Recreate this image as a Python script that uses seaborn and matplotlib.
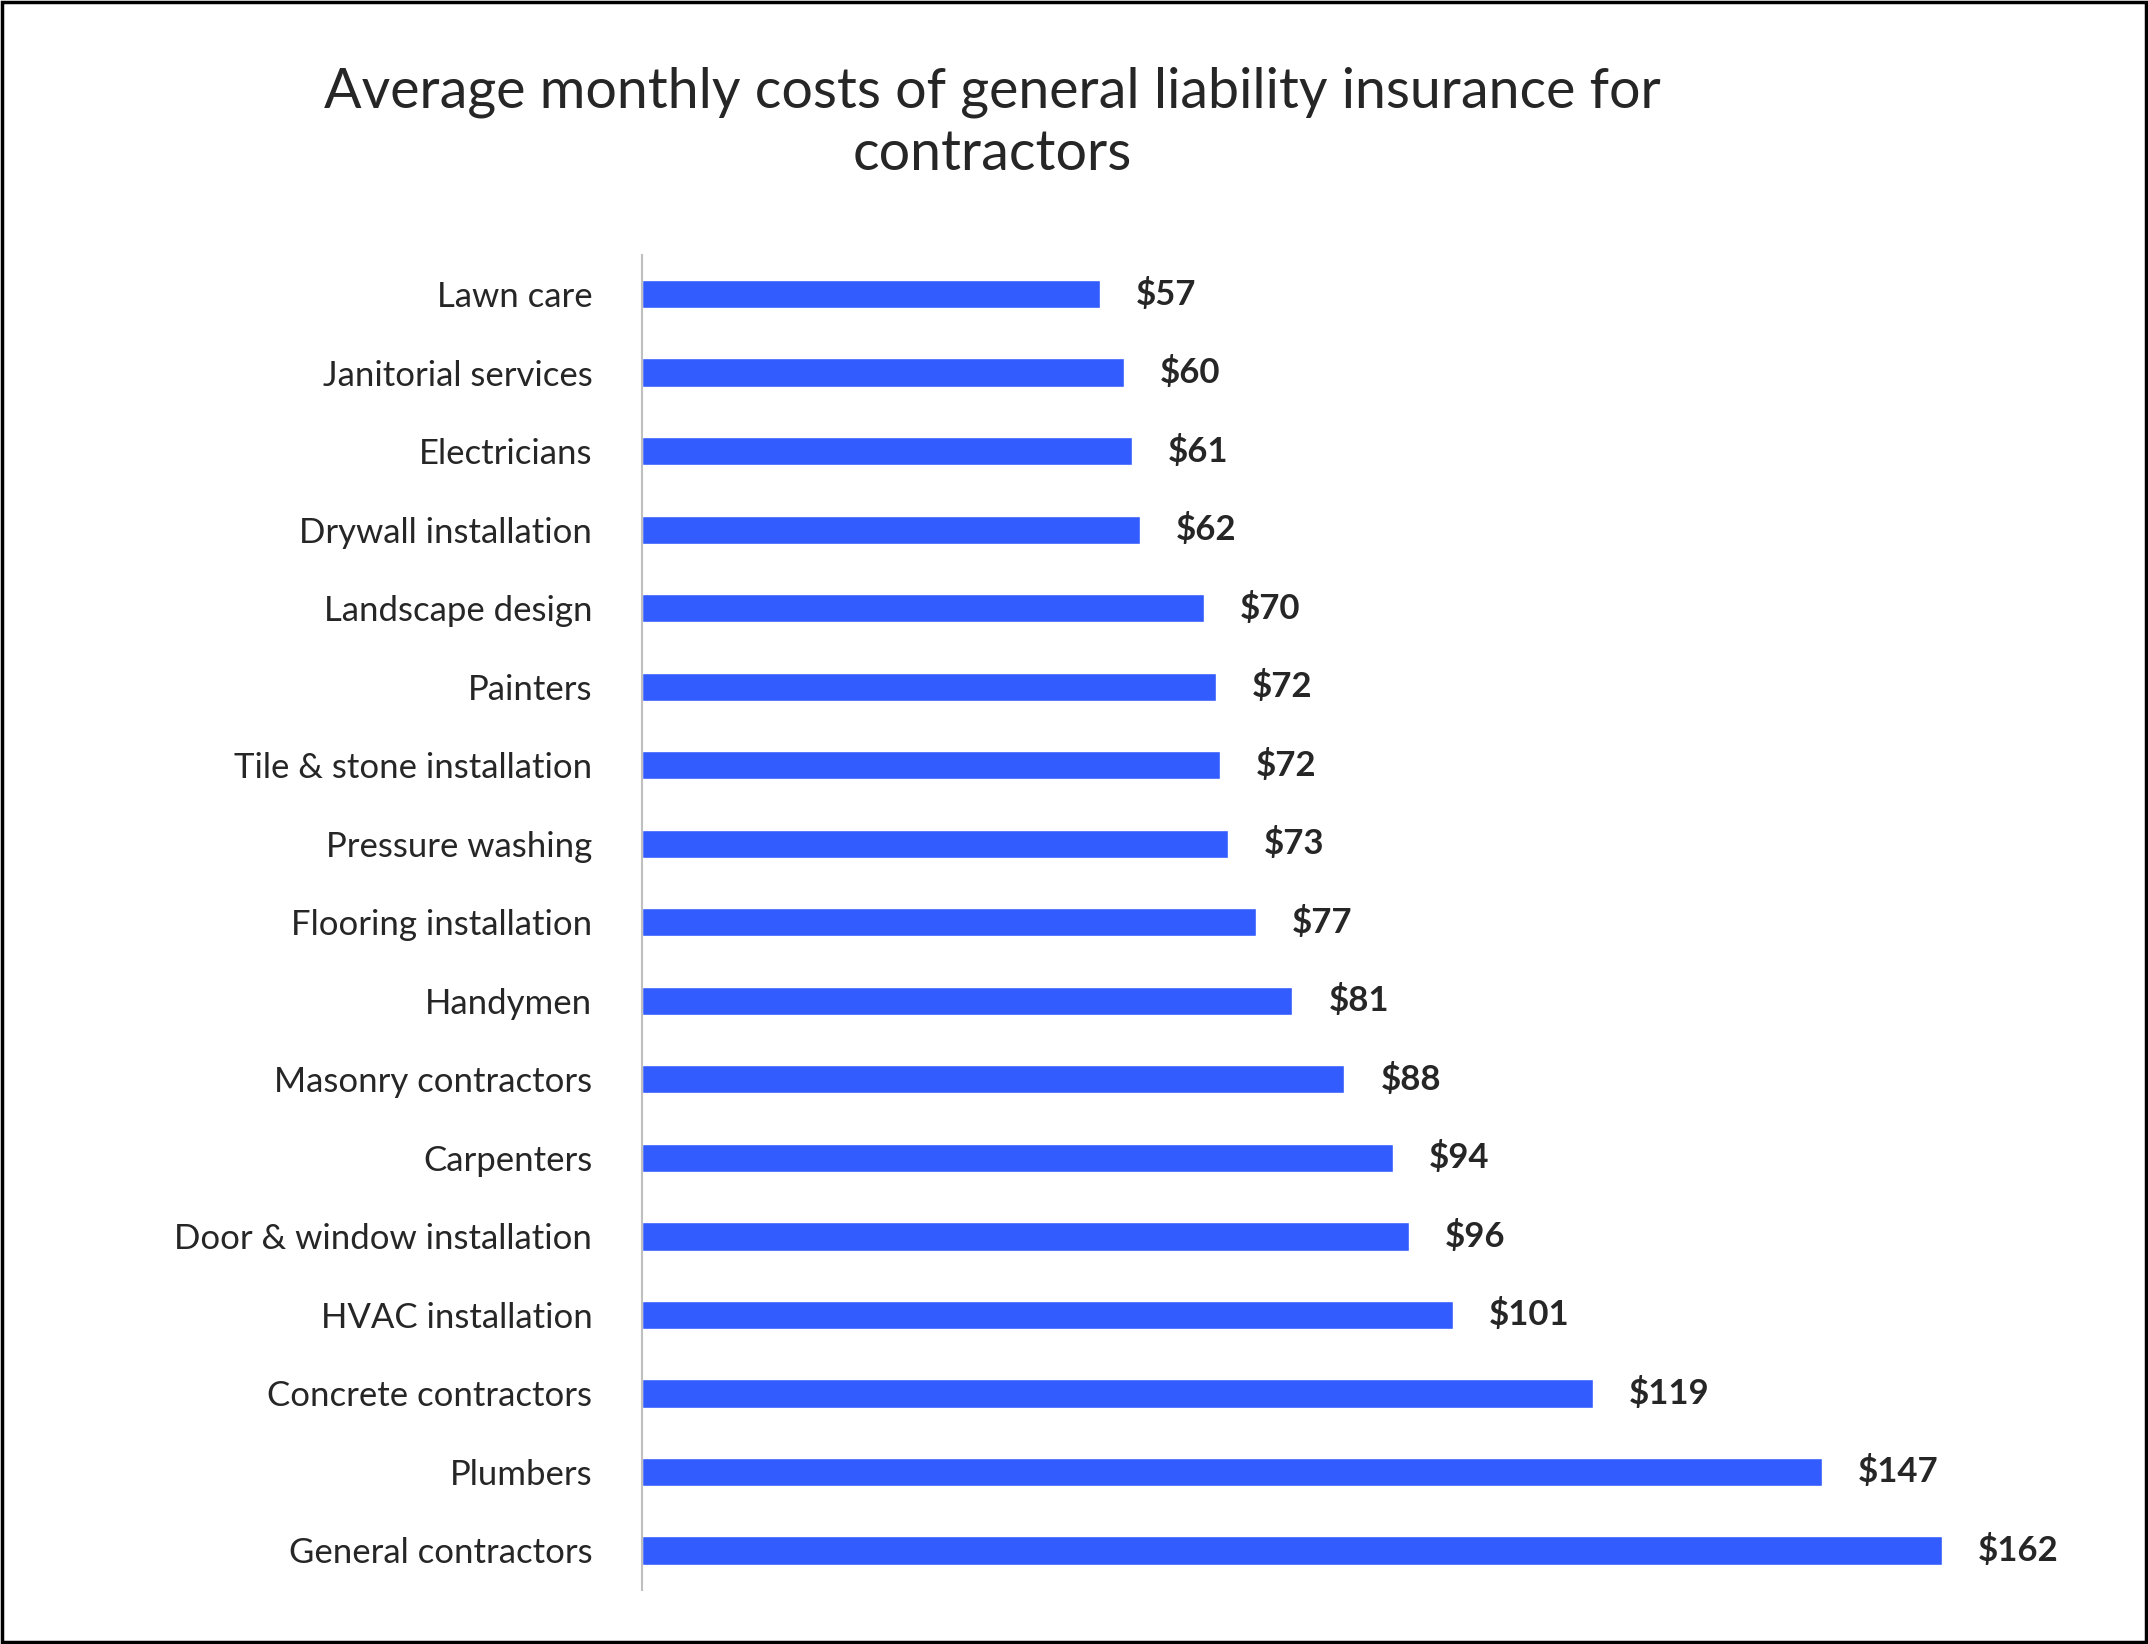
import matplotlib
matplotlib.use("Agg")
import matplotlib.pyplot as plt
import seaborn as sns
import pandas as pd

categories = ["Lawn care", "Janitorial services", "Electricians", "Drywall installation",
              "Landscape design", "Painters", "Tile & stone installation", "Pressure washing",
              "Flooring installation", "Handymen", "Masonry contractors", "Carpenters",
              "Door & window installation", "HVAC installation", "Concrete contractors",
              "Plumbers", "General contractors"]
values = [57, 60, 61, 62, 70, 71.5, 72, 73, 76.5, 81, 87.5, 93.5, 95.5, 101, 118.5, 147, 162]
labels = ["$57", "$60", "$61", "$62", "$70", "$72", "$72", "$73", "$77", "$81", "$88",
          "$94", "$96", "$101", "$119", "$147", "$162"]

df = pd.DataFrame({"category": categories, "value": values})

sns.set_style("white")
plt.rcParams["font.family"] = ["Lato", "DejaVu Sans"]

fig = plt.figure(figsize=(21.48, 16.44), dpi=100)
ax = fig.add_axes([0.299, 0.033, 0.681, 0.812])
sns.barplot(data=df, x="value", y="category", color="#335CFF", width=0.36,
            saturation=1, ax=ax)

for i, (v, lab) in enumerate(zip(values, labels)):
    ax.text(v + 4.5, i, lab, va="center", ha="left", fontsize=25, fontweight="bold")

ax.set_xlim(0, 182.3)
ax.set_ylim(len(categories) - 0.5, -0.5)
ax.set_xlabel("")
ax.set_ylabel("")
ax.set_xticks([])
ax.tick_params(axis="y", labelsize=25, length=0, pad=36)
for s in ["top", "right", "bottom"]:
    ax.spines[s].set_visible(False)
ax.spines["left"].set_color("#BFBFBF")
ax.spines["left"].set_linewidth(1.5)

fig.text(0.462, 0.925, "Average monthly costs of general liability insurance for\ncontractors",
         ha="center", va="center", fontsize=40, linespacing=1.25)

fig.patches.append(plt.Rectangle((0.001, 0.001), 0.998, 0.998, transform=fig.transFigure,
                                 fill=False, edgecolor="black", linewidth=2.5))

fig.savefig("out.png", dpi=100)
